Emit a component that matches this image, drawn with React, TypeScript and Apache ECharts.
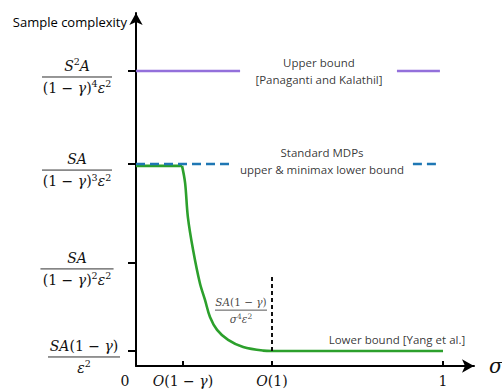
import React, { useEffect, useRef } from "react";
import * as echarts from "echarts";

// ---- axis extents (schematic units) ----
const X_MAX = 1.101;
const Y_MAX = 9.86;

// ---- y-axis levels and their (fraction) labels ----
const yLevels = [0.42, 2.88, 5.64, 8.24];
const yLevelLabels = [
  "{sp|}{i|SA}{n|(1 − }{i|γ}{n|)}\n{sp|}{hr72|}\n{sp|}{i|ε}{sup|2}",
  "{i|SA}\n{hr73|}\n{n|(1 − }{i|γ}{n|)}{sup|2}{i|ε}{sup|2}",
  "{i|SA}\n{hr70|}\n{n|(1 − }{i|γ}{n|)}{sup|3}{i|ε}{sup|2}",
  "{i|S}{sup|2}{i|A}\n{hr70|}\n{n|(1 − }{i|γ}{n|)}{sup|4}{i|ε}{sup|2}",
];

// ---- x-axis ticks and labels ----
const xTickValues = [0.153, 0.443, 1];
const xLabelValues = [0, 0.153, 0.443, 1];
const xLabelTexts = ["{z|0}", "{i|O}{n|(1 − }{i|γ}{n|)}", "{i|O}{n|(1)}", "{n|1}"];

// ---- series ----
const upperBoundLeft = [[0, 8.24], [0.339, 8.24]];
const upperBoundRight = [[0.85, 8.24], [0.99, 8.24]];
const standardLeft = [[0, 5.64], [0.313, 5.64]];
const standardRight = [[0.902, 5.64], [0.983, 5.64]];
const lowerBoundFlatTop = [[0, 5.59], [0.15, 5.59]];
const lowerBoundCurve = [
  [0.15, 5.59],
  [0.16, 5.11],
  [0.169, 4.16],
  [0.186, 3.24],
  [0.208, 2.32],
  [0.225, 1.84],
  [0.241, 1.37],
  [0.264, 1.01],
  [0.3, 0.73],
  [0.349, 0.53],
  [0.414, 0.43],
  [0.443, 0.42],
  [1.0, 0.42],
];
const o1Marker = [[0.443, 0.42], [0.443, 2.54]];

// ---- annotations ----
const annotations = [
  { pos: [0.596, 8.23], text: "Upper bound\n[Panaganti and Kalathil]" },
  { pos: [0.606, 5.74], text: "Standard MDPs\nupper & minimax lower bound" },
  { pos: [0.85, 0.73], text: "Lower bound [Yang et al.]" },
];
const curveLabel = {
  pos: [0.342, 1.56],
  text: "{i|SA}{n|(1 − }{i|γ}{n|)}\n{hr52|}\n{i|σ}{sup|4}{i|ε}{sup|2}",
};

const SERIF = "'DejaVu Serif', 'Liberation Serif', serif";
const SANS = "'Open Sans', 'Noto Sans', sans-serif";

function hrStyle(w: number) {
  return { width: w, height: 0, borderWidth: 0.6, borderColor: "#333", lineHeight: 4 };
}

function mathRich(size: number, supSize: number, lh: number) {
  return {
    i: { fontFamily: SERIF, fontStyle: "italic", fontSize: size, color: "#111", lineHeight: lh },
    n: { fontFamily: SERIF, fontSize: size, color: "#111", lineHeight: lh },
    sup: { fontFamily: SERIF, fontSize: supSize, color: "#111", lineHeight: Math.round(lh * 0.45), verticalAlign: "top" },
    hr70: hrStyle(70),
    hr72: hrStyle(72),
    hr73: hrStyle(73),
    hr52: hrStyle(52),
    sp: { width: 14, height: 1, lineHeight: 1 },
    z: { fontFamily: SERIF, fontSize: size, color: "#111", lineHeight: lh, padding: [0, 22, 0, 0] },
  };
}

function nearestIndex(arr: number[], v: number) {
  let best = 0;
  for (let k = 1; k < arr.length; k++) if (Math.abs(arr[k] - v) < Math.abs(arr[best] - v)) best = k;
  return best;
}

export default function App() {
  const ref = useRef<HTMLDivElement>(null);
  useEffect(() => {
    if (!ref.current) return;
    document.body.style.margin = "0";
    const chart = echarts.init(ref.current, null, { renderer: "svg" });
    const lineSeries = (data: number[][], color: string, type: any, width = 2.5, smooth: any = false) => ({
      type: "line",
      data,
      symbol: "none",
      silent: true,
      smooth,
      lineStyle: { color, width, type },
    });
    chart.setOption({
      animation: false,
      tooltip: { show: false },
      grid: { left: 136, right: 28, top: 13, bottom: 25, containLabel: false, outerBoundsMode: "none" },
      xAxis: {
        type: "value",
        min: 0,
        max: X_MAX,
        splitLine: { show: false },
        name: "σ",
        nameLocation: "end",
        nameGap: 15,
        nameTextStyle: {
          fontFamily: SERIF,
          fontStyle: "italic",
          fontSize: 20,
          color: "#111",
          verticalAlign: "middle",
          padding: [10, 0, 0, 0],
        },
        axisLine: { lineStyle: { color: "#000", width: 2 }, symbol: ["none", "arrow"], symbolSize: [10, 12] },
        axisTick: { show: true, inside: true, length: 5, lineStyle: { color: "#000", width: 2 }, customValues: xTickValues },
        axisLabel: {
          customValues: xLabelValues,
          margin: 6,
          formatter: (v: number) => xLabelTexts[nearestIndex(xLabelValues, v)],
          rich: mathRich(14, 9.5, 18),
        },
      },
      yAxis: {
        type: "value",
        min: 0,
        max: Y_MAX,
        splitLine: { show: false },
        name: "Sample complexity",
        nameLocation: "end",
        nameGap: -9,
        nameTextStyle: {
          fontFamily: SANS,
          fontSize: 13,
          color: "#000",
          align: "right",
          verticalAlign: "middle",
          padding: [0, 9, 0, 0],
        },
        axisLine: { lineStyle: { color: "#000", width: 2 }, symbol: ["none", "arrow"], symbolSize: [10, 12] },
        axisTick: { show: true, inside: false, length: 8, lineStyle: { color: "#000", width: 2 }, customValues: yLevels },
        axisLabel: {
          customValues: yLevels,
          align: "center",
          margin: 59,
          padding: [12, 0, 0, 0],
          formatter: (v: number) => yLevelLabels[nearestIndex(yLevels, v)],
          rich: mathRich(14, 9.5, 18),
        },
      },
      series: [
        lineSeries(lowerBoundFlatTop, "#2ca02c", "solid", 2.6),
        lineSeries(lowerBoundCurve, "#2ca02c", "solid", 2.6, 0.35),
        lineSeries(upperBoundLeft, "#9370db", "solid"),
        lineSeries(upperBoundRight, "#9370db", "solid"),
        lineSeries(standardLeft, "#1f77b4", [9, 5]),
        lineSeries(standardRight, "#1f77b4", [9, 5]),
        lineSeries(o1Marker, "#111", [4, 3], 2),
        {
          type: "scatter",
          silent: true,
          symbolSize: 1,
          itemStyle: { color: "transparent" },
          data: annotations.map((a) => ({ value: a.pos, name: a.text })),
          label: {
            show: true,
            position: "inside",
            formatter: (p: any) => p.name,
            fontFamily: SANS,
            fontSize: 11.5,
            lineHeight: 17,
            color: "#000",
            align: "center",
          },
        },
        {
          type: "scatter",
          silent: true,
          symbolSize: 1,
          itemStyle: { color: "transparent" },
          data: [{ value: curveLabel.pos }],
          label: {
            show: true,
            position: "inside",
            formatter: () => curveLabel.text,
            align: "center",
            rich: mathRich(10.5, 7.5, 13),
          },
        },
      ],
    });
    return () => chart.dispose();
  }, []);
  return <div ref={ref} style={{ width: 502, height: 391, position: "fixed", left: 0, top: 0 }} />;
}
